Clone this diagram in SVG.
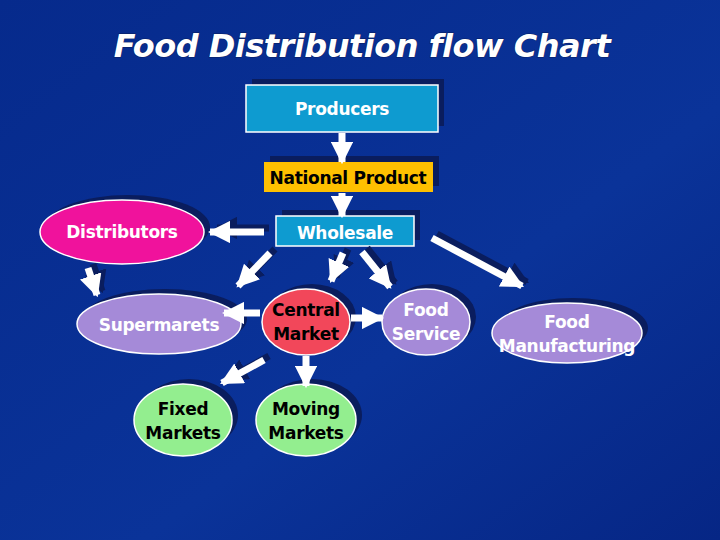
<svg xmlns="http://www.w3.org/2000/svg" width="720" height="540" viewBox="0 0 720 540">
<defs>
<linearGradient id="bg" x1="0" y1="0" x2="1" y2="1"><stop offset="0" stop-color="#062a8c"/><stop offset="0.6" stop-color="#0a3399"/><stop offset="1" stop-color="#062685"/></linearGradient>
<marker id="ah" viewBox="0 0 10 10" refX="9" refY="5" markerWidth="3.2" markerHeight="3.2" orient="auto" markerUnits="strokeWidth"><path d="M0,0 L10,5 L0,10 Z" fill="#fff"/></marker>
<marker id="ahs" viewBox="0 0 10 10" refX="9" refY="5" markerWidth="3.2" markerHeight="3.2" orient="auto" markerUnits="strokeWidth"><path d="M0,0 L10,5 L0,10 Z" fill="#0a1d5e"/></marker>
<style>
.t{font-family:"DejaVu Sans","Liberation Sans",sans-serif;font-weight:bold;font-size:17px;letter-spacing:-0.3px;text-anchor:middle}
.w{fill:#fff}.k{fill:#000}
.sh{fill:#0a1d5e}
.a{stroke:#fff;stroke-width:7;marker-end:url(#ah);fill:none}
.as{stroke:#0a1d5e;stroke-width:7;marker-end:url(#ahs);fill:none}
.bd{stroke:#fff;stroke-width:1.5}
</style>
</defs>
<rect width="720" height="540" fill="url(#bg)"/>
<text x="362" y="57" class="t w" style="font-size:32px;font-style:italic;letter-spacing:-0.5px;stroke:#0a1d5e;stroke-width:1;paint-order:stroke">Food Distribution flow Chart</text>
<g id="producers"><rect x="252" y="79" width="192" height="47" class="sh"/><rect x="246" y="85" width="192" height="47" fill="#0e9bd0" class="bd"/><text x="342" y="115" class="t w">Producers</text></g>
<g id="national"><rect x="270" y="156" width="169" height="30" class="sh"/><rect x="264" y="162" width="169" height="30" fill="#ffc000"/><text x="348" y="184" class="t k">National Product</text></g>
<g id="wholesale"><rect x="282" y="210" width="138" height="30" class="sh"/><rect x="276" y="216" width="138" height="30" fill="#0e9bd0" class="bd"/><text x="345" y="239" class="t w">Wholesale</text></g>
<g id="distributors"><ellipse cx="128" cy="227" rx="82" ry="32" class="sh"/><ellipse cx="122" cy="232" rx="82" ry="32" fill="#f0129c" class="bd"/><text x="122" y="238" class="t w">Distributors</text></g>
<g id="supermarets"><ellipse cx="165" cy="319" rx="82" ry="30" class="sh"/><ellipse cx="159" cy="324" rx="82" ry="30" fill="#a58ad8" class="bd"/><text x="159" y="331" class="t w">Supermarets</text></g>
<g id="central"><ellipse cx="312" cy="317" rx="44" ry="33" class="sh"/><ellipse cx="306" cy="322" rx="44" ry="33" fill="#f2475a" class="bd"/><text x="306" y="316" class="t k">Central</text><text x="306" y="340" class="t k">Market</text></g>
<g id="foodservice"><ellipse cx="432" cy="317" rx="44" ry="33" class="sh"/><ellipse cx="426" cy="322" rx="44" ry="33" fill="#a58ad8" class="bd"/><text x="426" y="316" class="t w">Food</text><text x="426" y="340" class="t w">Service</text></g>
<g id="foodmanufacturing"><ellipse cx="573" cy="328" rx="75" ry="30" class="sh"/><ellipse cx="567" cy="333" rx="75" ry="30" fill="#a58ad8" class="bd"/><text x="567" y="328" class="t w">Food</text><text x="567" y="352" class="t w">Manufacturing</text></g>
<g id="fixed"><ellipse cx="189" cy="415" rx="49" ry="36" class="sh"/><ellipse cx="183" cy="420" rx="49" ry="36" fill="#93ee8f" class="bd"/><text x="183" y="415" class="t k">Fixed</text><text x="183" y="439" class="t k">Markets</text></g>
<g id="moving"><ellipse cx="312" cy="415" rx="50" ry="36" class="sh"/><ellipse cx="306" cy="420" rx="50" ry="36" fill="#93ee8f" class="bd"/><text x="306" y="415" class="t k">Moving</text><text x="306" y="439" class="t k">Markets</text></g>
<g id="connectors">
<g transform="translate(5,-4)">
<line class="as" x1="88" y1="268" x2="97" y2="295"/><line class="as" x1="264" y1="232" x2="212" y2="232"/><line class="as" x1="270" y1="253" x2="238" y2="286"/><line class="as" x1="343" y1="253" x2="331" y2="281"/><line class="as" x1="362" y1="252" x2="390" y2="287"/><line class="as" x1="432" y1="238" x2="522" y2="286"/><line class="as" x1="264" y1="360" x2="222" y2="383"/>
</g>
<line class="a" x1="342" y1="133" x2="342" y2="162"/>
<line class="a" x1="342" y1="193" x2="342" y2="216"/>
<line class="a" x1="264" y1="232" x2="210" y2="232"/>
<line class="a" x1="88" y1="268" x2="97" y2="295"/>
<line class="a" x1="270" y1="253" x2="238" y2="286"/>
<line class="a" x1="343" y1="253" x2="331" y2="281"/>
<line class="a" x1="362" y1="252" x2="390" y2="287"/>
<line class="a" x1="432" y1="238" x2="522" y2="286"/>
<line class="a" x1="260" y1="313" x2="224" y2="313"/>
<line class="a" x1="351" y1="318" x2="382" y2="318"/>
<line class="a" x1="264" y1="360" x2="222" y2="383"/>
<line class="a" x1="306" y1="356" x2="306" y2="386"/>
</g>
</svg>
